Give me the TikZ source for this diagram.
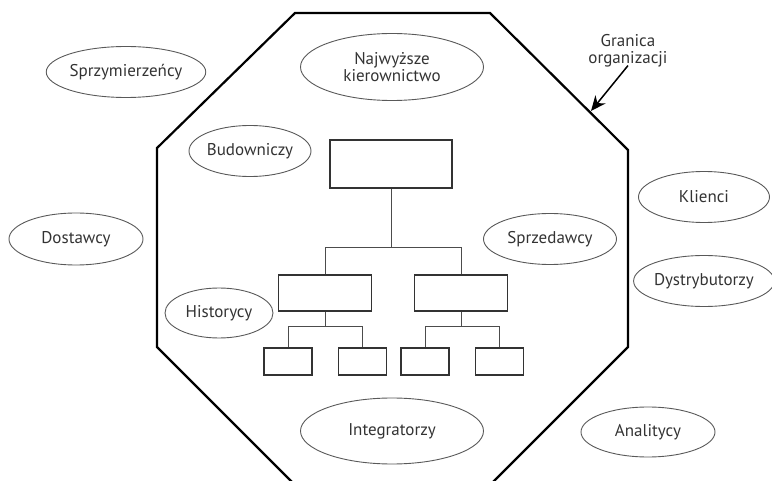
\documentclass[tikz,border=0pt]{standalone}
\usepackage{fontspec}
\setmainfont{PT Sans}
\usetikzlibrary{shapes.geometric, arrows.meta}

\tikzset{
  actor/.style={ellipse, draw=black!65, line width=0.9pt, inner sep=0pt,
    minimum height=51pt, text=black!80, font=\fontsize{17}{20}\selectfont},
  unit/.style={rectangle, draw=black!80, line width=1.6pt, inner sep=0pt},
  link/.style={draw=black!70, line width=1pt},
  boundary/.style={draw=black, line width=2.2pt, line join=miter}
}

\begin{document}
\begin{tikzpicture}[x=1pt, y=-1pt]
  \useasboundingbox (0,0) rectangle (772,481);
  \clip (0,0) rectangle (772,481);

  % granica organizacji
  \draw[boundary] (295,13) -- (490,13) -- (628,150) -- (628,347) -- (490,485)
    -- (295,485) -- (157,347) -- (157,148) -- cycle;

  % grupy wewnatrz
  \node[actor, minimum width=183pt, minimum height=67pt, align=center] (zarzad) at (392,67) {Najwyższe\\[-3pt]kierownictwo};
  \node[actor, minimum width=110pt] (budow) at (250,151) {Budowniczy};
  \node[actor, minimum width=133pt] (sprzed) at (550,239) {Sprzedawcy};
  \node[actor, minimum width=108pt, minimum height=50pt] (histor) at (219,313) {Historycy};
  \node[actor, minimum width=183pt, minimum height=66pt] (integr) at (392,431) {Integratorzy};

  % grupy na zewnatrz
  \node[actor, minimum width=154pt] (sojusz) at (126,72) {Sprzymierzeńcy};
  \node[actor, minimum width=134pt, minimum height=52pt] (dostaw) at (76,239) {Dostawcy};
  \node[actor, minimum width=131pt] (klienci) at (704,197) {Klienci};
  \node[actor, minimum width=131pt] (dystr) at (704,281) {Dystrybutorzy};
  \node[actor, minimum width=134pt, minimum height=50pt] (anal) at (648,432) {Analitycy};

  % struktura
  \node[unit, minimum width=122pt, minimum height=48pt] (top) at (391,164) {};
  \node[unit, minimum width=93pt, minimum height=36pt] (midL) at (325,293) {};
  \node[unit, minimum width=93pt, minimum height=36pt] (midR) at (461,293) {};
  \foreach \n/\x in {s1/288, s2/362.5, s3/425, s4/499.5}
    \node[unit, minimum width=48pt, minimum height=27pt] (\n) at (\x,361.5) {};

  \draw[link] (top.south) -- ++(0,59) -| (midL.north);
  \draw[link] (top.south) -- ++(0,59) -| (midR.north);
  \draw[link] (midL.south) -- ++(0,15) -| (s1.north);
  \draw[link] (midL.south) -- ++(0,15) -| (s2.north);
  \draw[link] (midR.south) -- ++(0,15) -| (s3.north);
  \draw[link] (midR.south) -- ++(0,15) -| (s4.north);

  % podpis
  \node[text=black!80, font=\fontsize{17}{20}\selectfont, align=center, inner sep=1pt] (granica) at (628,51) {Granica\\[-3pt]organizacji};
  \coordinate (hit) at (591,111);
  \draw[black, line width=1.5pt, -{Stealth[length=15pt, width=13pt]}] ([yshift=3pt]granica.south) -- (hit);
\end{tikzpicture}
\end{document}
